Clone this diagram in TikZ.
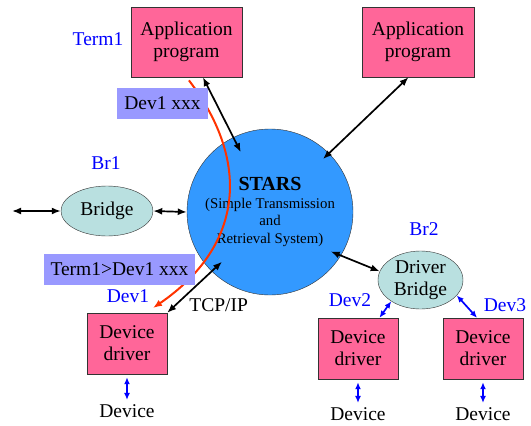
\documentclass[tikz,border=0pt]{standalone}
\usepackage{fontspec}
\setmainfont{Liberation Serif}
\usetikzlibrary{arrows.meta, shapes.geometric, calc}
\definecolor{progpink}{RGB}{255,102,153}
\definecolor{starsblue}{RGB}{51,153,255}
\definecolor{bridgecyan}{RGB}{185,224,224}
\definecolor{tagblue}{RGB}{153,153,255}
\definecolor{pathred}{RGB}{255,51,0}

\begin{document}
\begin{tikzpicture}[
    x=1pt, y=-1pt, >={Latex[length=9pt,width=7pt]},
    every node/.style={font=\fontsize{19.5}{22}\selectfont, align=center},
    progbox/.style={rectangle, draw=black!80, fill=progpink, minimum width=111pt, minimum height=70pt, inner sep=0pt},
    drvbox/.style={progbox, minimum width=80pt, minimum height=61pt},
    bridgenode/.style={ellipse, draw=black!80, fill=bridgecyan, inner sep=0pt},
    msgtag/.style={fill=tagblue, inner xsep=7pt, minimum height=31pt},
    unitname/.style={text=blue},
    link/.style={<->, line width=1.7pt},
    devlink/.style={<->, line width=1.7pt, blue, >={Latex[length=7pt,width=6pt]}}
]
\useasboundingbox (0,0) rectangle (531,426);

% programs on top
\node (app_term) [progbox] at (186.5,42) {Application\\program};
\node (app_other) [progbox, minimum width=112pt] at (418,42) {Application\\program};
\node (term_name) [unitname] at (98,39) {Term1};

% central server
\node (stars) [circle, draw=black!80, fill=starsblue, minimum size=166pt, inner sep=0pt,
    font=\fontsize{14.8}{17.8}\selectfont] at (270,212)
    {{\fontsize{20}{20}\selectfont\bfseries STARS}\\(Simple Transmission\\and\\Retrieval System)};

% bridges
\node (br_one) [bridgenode, minimum width=92pt, minimum height=50pt] at (107,211) {Bridge};
\node (br_one_name) [unitname] at (106,163) {Br1};
\node (br_two) [bridgenode, minimum width=85pt, minimum height=58pt] at (420.5,280) {Driver\\Bridge};
\node (br_two_name) [unitname] at (424,229) {Br2};
\coordinate (outleft) at (12,211);

% device drivers
\node (drv_one) [drvbox] at (127,343.5) {Device\\driver};
\node (drv_two) [drvbox] at (358,348.5) {Device\\driver};
\node (drv_three) [drvbox] at (483,348.5) {Device\\driver};
\node (drv_one_name) [unitname] at (128,296) {Dev1};
\node (drv_two_name) [unitname] at (350,300) {Dev2};
\node (drv_three_name) [unitname] at (505,305) {Dev3};
\node (dev_one) at (127,411) {Device};
\node (dev_two) at (358,414) {Device};
\node (dev_three) at (483,414) {Device};

% message route
\coordinate (route_end) at (153,308);
\draw[->, line width=2pt, pathred, shorten <=4pt] (app_term.south) .. controls (250,160) and (245,245) .. (route_end);
\node (msg_in) [msgtag] at (162.5,103.5) {Dev1 xxx};
\node (msg_out) [msgtag] at (119.5,269) {Term1>Dev1 xxx};

\draw[link] (app_term.-65) -- ($(stars.center)!.8!(stars.116)$);
\draw[link] (app_other.-105) -- ($(stars.center)!.9!(stars.45)$);
\draw[link] ($(stars.center)!.87!(stars.-33)$) -- (br_two.168);
\draw[link] ($(stars.center)!.83!(stars.-134)$) -- node[pos=.8, anchor=west, xshift=7pt, yshift=-3pt] (tcp) {TCP/IP} (drv_one.north east);
\draw[link] (outleft) -- (br_one.west);
\draw[link] (br_one.east) -- (stars.west);

\draw[devlink] (br_two.-144) -- (drv_two.55);
\draw[devlink] (br_two.-23) -- (drv_three.101);
\draw[devlink, shorten <=3pt, shorten >=1pt] (drv_one.south) -- (dev_one.north);
\draw[devlink, shorten <=3pt, shorten >=1pt] (drv_two.south) -- (dev_two.north);
\draw[devlink, shorten <=3pt, shorten >=1pt] (drv_three.south) -- (dev_three.north);
\end{tikzpicture}
\end{document}
